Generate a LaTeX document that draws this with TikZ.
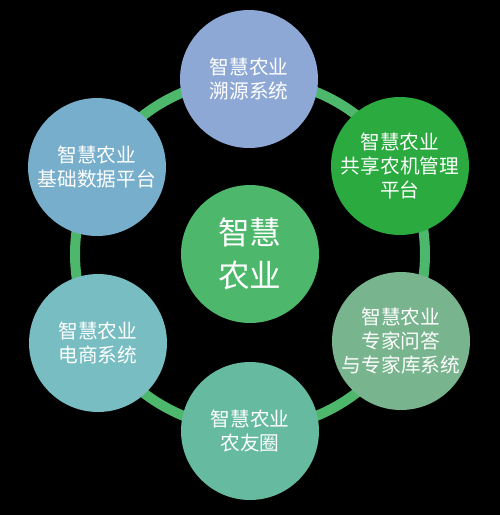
\documentclass[tikz,border=0pt]{standalone}
\usepackage{fontspec}
\newfontfamily\cjk{Noto Sans CJK SC}

\definecolor{ringgreen}{HTML}{4DB86B}
\definecolor{cTrace}{HTML}{8EA8D6}
\definecolor{cShare}{HTML}{2AAA3F}
\definecolor{cExpert}{HTML}{78B48E}
\definecolor{cFriend}{HTML}{66BAA0}
\definecolor{cShop}{HTML}{78BDC1}
\definecolor{cData}{HTML}{76AECB}

\begin{document}
\begin{tikzpicture}[x=0.02cm, y=-0.02cm,
  sub/.style={shape=circle, minimum size=2.76cm, inner sep=0pt, text=white, align=center,
              font=\cjk\fontsize{11.2pt}{13.6pt}\selectfont},
  hub/.style={shape=circle, fill=ringgreen, minimum size=2.76cm, inner sep=0pt, text=white, align=center,
              font=\cjk\fontsize{18pt}{24.5pt}\selectfont},
  ring/.style={draw=ringgreen, line width=0.2cm}]
\fill[black] (0,0) rectangle (500,515);
\useasboundingbox (0,0) rectangle (500,515);
\node[hub] (C) at (250,254) {智慧\\农业};
\draw[ring] (C) circle (3.5cm);
\node[sub, fill=cTrace] (N1) at (249,79) {智慧农业\\溯源系统};
\node[sub, fill=cShare] (N2) at (400,166) {智慧农业\\共享农机管理\\平台};
\node[sub, fill=cExpert] (N3) at (401,341) {智慧农业\\专家问答\\与专家库系统};
\node[sub, fill=cFriend] (N4) at (250,431) {智慧农业\\农友圈};
\node[sub, fill=cShop] (N5) at (98,343) {智慧农业\\电商系统};
\node[sub, fill=cData] (N6) at (97,167) {智慧农业\\基础数据平台};
\end{tikzpicture}
\end{document}
